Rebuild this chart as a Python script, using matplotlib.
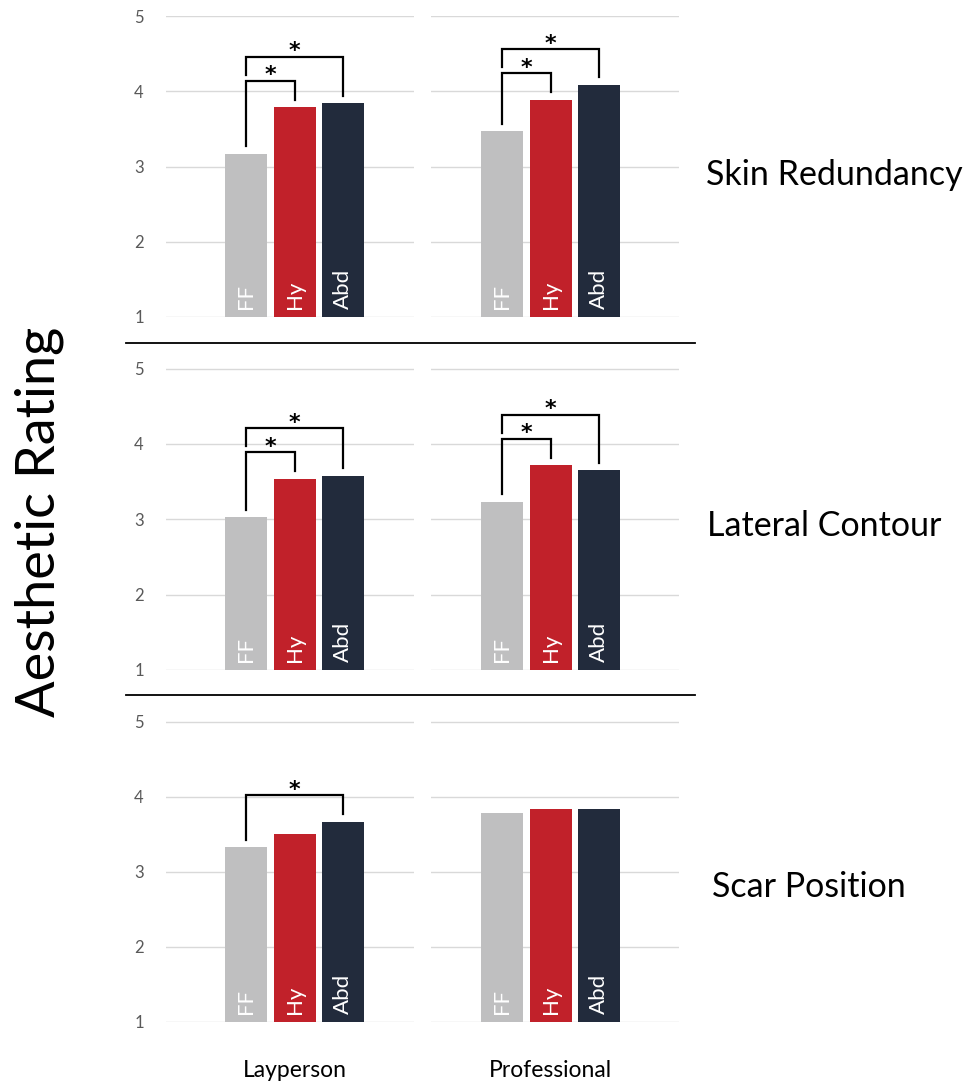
import matplotlib
matplotlib.use('Agg')
import matplotlib.pyplot as plt
from matplotlib.lines import Line2D

plt.rcParams['font.family'] = ['Lato', 'DejaVu Sans']

# data
categories = ['FF', 'Hy', 'Abd']
groups = ['Layperson', 'Professional']
panel_titles = ['Skin Redundancy', 'Lateral Contour', 'Scar Position']

skin_lay = [3.17, 3.79, 3.84]
skin_pro = [3.47, 3.89, 4.09]
contour_lay = [3.03, 3.54, 3.58]
contour_pro = [3.23, 3.72, 3.65]
scar_lay = [3.33, 3.50, 3.67]
scar_pro = [3.79, 3.83, 3.84]

# significant comparisons (index pairs) per panel / group
skin_sig = [[(0, 1), (0, 2)], [(0, 1), (0, 2)]]
contour_sig = [[(0, 1), (0, 2)], [(0, 1), (0, 2)]]
scar_sig = [[(0, 2)], []]

rows = [
    (panel_titles[0], [skin_lay, skin_pro], skin_sig),
    (panel_titles[1], [contour_lay, contour_pro], contour_sig),
    (panel_titles[2], [scar_lay, scar_pro], scar_sig),
]

colors = ['#bfbfc0', '#c1212a', '#222b3c']

W, H = 970, 1085
fig = plt.figure(figsize=(W / 100, H / 100), dpi=100)

# pixel layout of each row: (y of 5, y of 1)
row_px = [(16, 317), (368.3, 670.3), (721.3, 1022.3)]
col_px = [(166, 414), (431, 679)]
col_xlim = [(-1.65, 3.46), (-1.46, 3.64)]
# title position (x left, baseline y) in pixels
title_px = [(706, 185), (707, 536), (712, 897)]


def draw_bracket(ax, vals, pairs):
    prev_top = None
    for (i, j) in pairs:
        span_max = max(vals[i:j + 1])
        top = span_max + 0.35
        if prev_top is not None:
            top = max(top, prev_top + 0.32)
        left_bottom = vals[i] + 0.1 if prev_top is None else prev_top + 0.08
        right_bottom = vals[j] + 0.1
        ax.plot([i, i, j, j], [left_bottom, top, top, right_bottom],
                color='black', lw=1.6, clip_on=False, zorder=4,
                solid_joinstyle='miter')
        ax.text((i + j) / 2, top - 0.06, '*', ha='center', va='bottom',
                fontsize=16, fontweight='bold', color='black',
                family='DejaVu Sans')
        prev_top = top


for r, (title, series, sigs) in enumerate(rows):
    y5, y1 = row_px[r]
    for c in range(2):
        x0, x1 = col_px[c]
        ax = fig.add_axes([x0 / W, 1 - y1 / H, (x1 - x0) / W, (y1 - y5) / H])
        vals = series[c]
        xs = list(range(len(categories)))
        ax.bar(xs, [v - 1 for v in vals], bottom=1, width=0.866,
               color=colors, zorder=3)
        for x, lab in zip(xs, categories):
            ax.text(x, 1.1, lab, rotation=90, ha='center', va='bottom',
                    color='white', fontsize=16, zorder=5)
        ax.set_ylim(0.995, 5.005)
        ax.set_xlim(*col_xlim[c])
        ax.set_yticks([1, 2, 3, 4, 5])
        ax.yaxis.grid(True, color='#d9d9d9', lw=1.0, zorder=0)
        ax.set_xticks([])
        for s in ax.spines.values():
            s.set_visible(False)
        ax.tick_params(axis='y', length=0, pad=16, labelsize=12,
                       labelcolor='#595959')
        if c == 1:
            ax.set_yticklabels([])
        draw_bracket(ax, vals, sigs[c])
        if r == 2:
            ax.text(1, 1 - 49 / 75.25, groups[c], ha='center', va='center',
                    fontsize=16.5, color='black')

    tx, ty = title_px[r]
    fig.text(tx / W, 1 - ty / H, title, ha='left', va='baseline',
             fontsize=24.5, color='black')

# separator lines between panels
for yy in [343, 695]:
    fig.add_artist(Line2D([126 / W, 695 / W], [1 - yy / H, 1 - yy / H],
                          color='black', lw=1.3))

fig.text(39 / W, 1 - 522 / H, 'Aesthetic Rating', rotation=90,
         ha='center', va='center', fontsize=39, color='black')

fig.savefig('out.png', dpi=100)
